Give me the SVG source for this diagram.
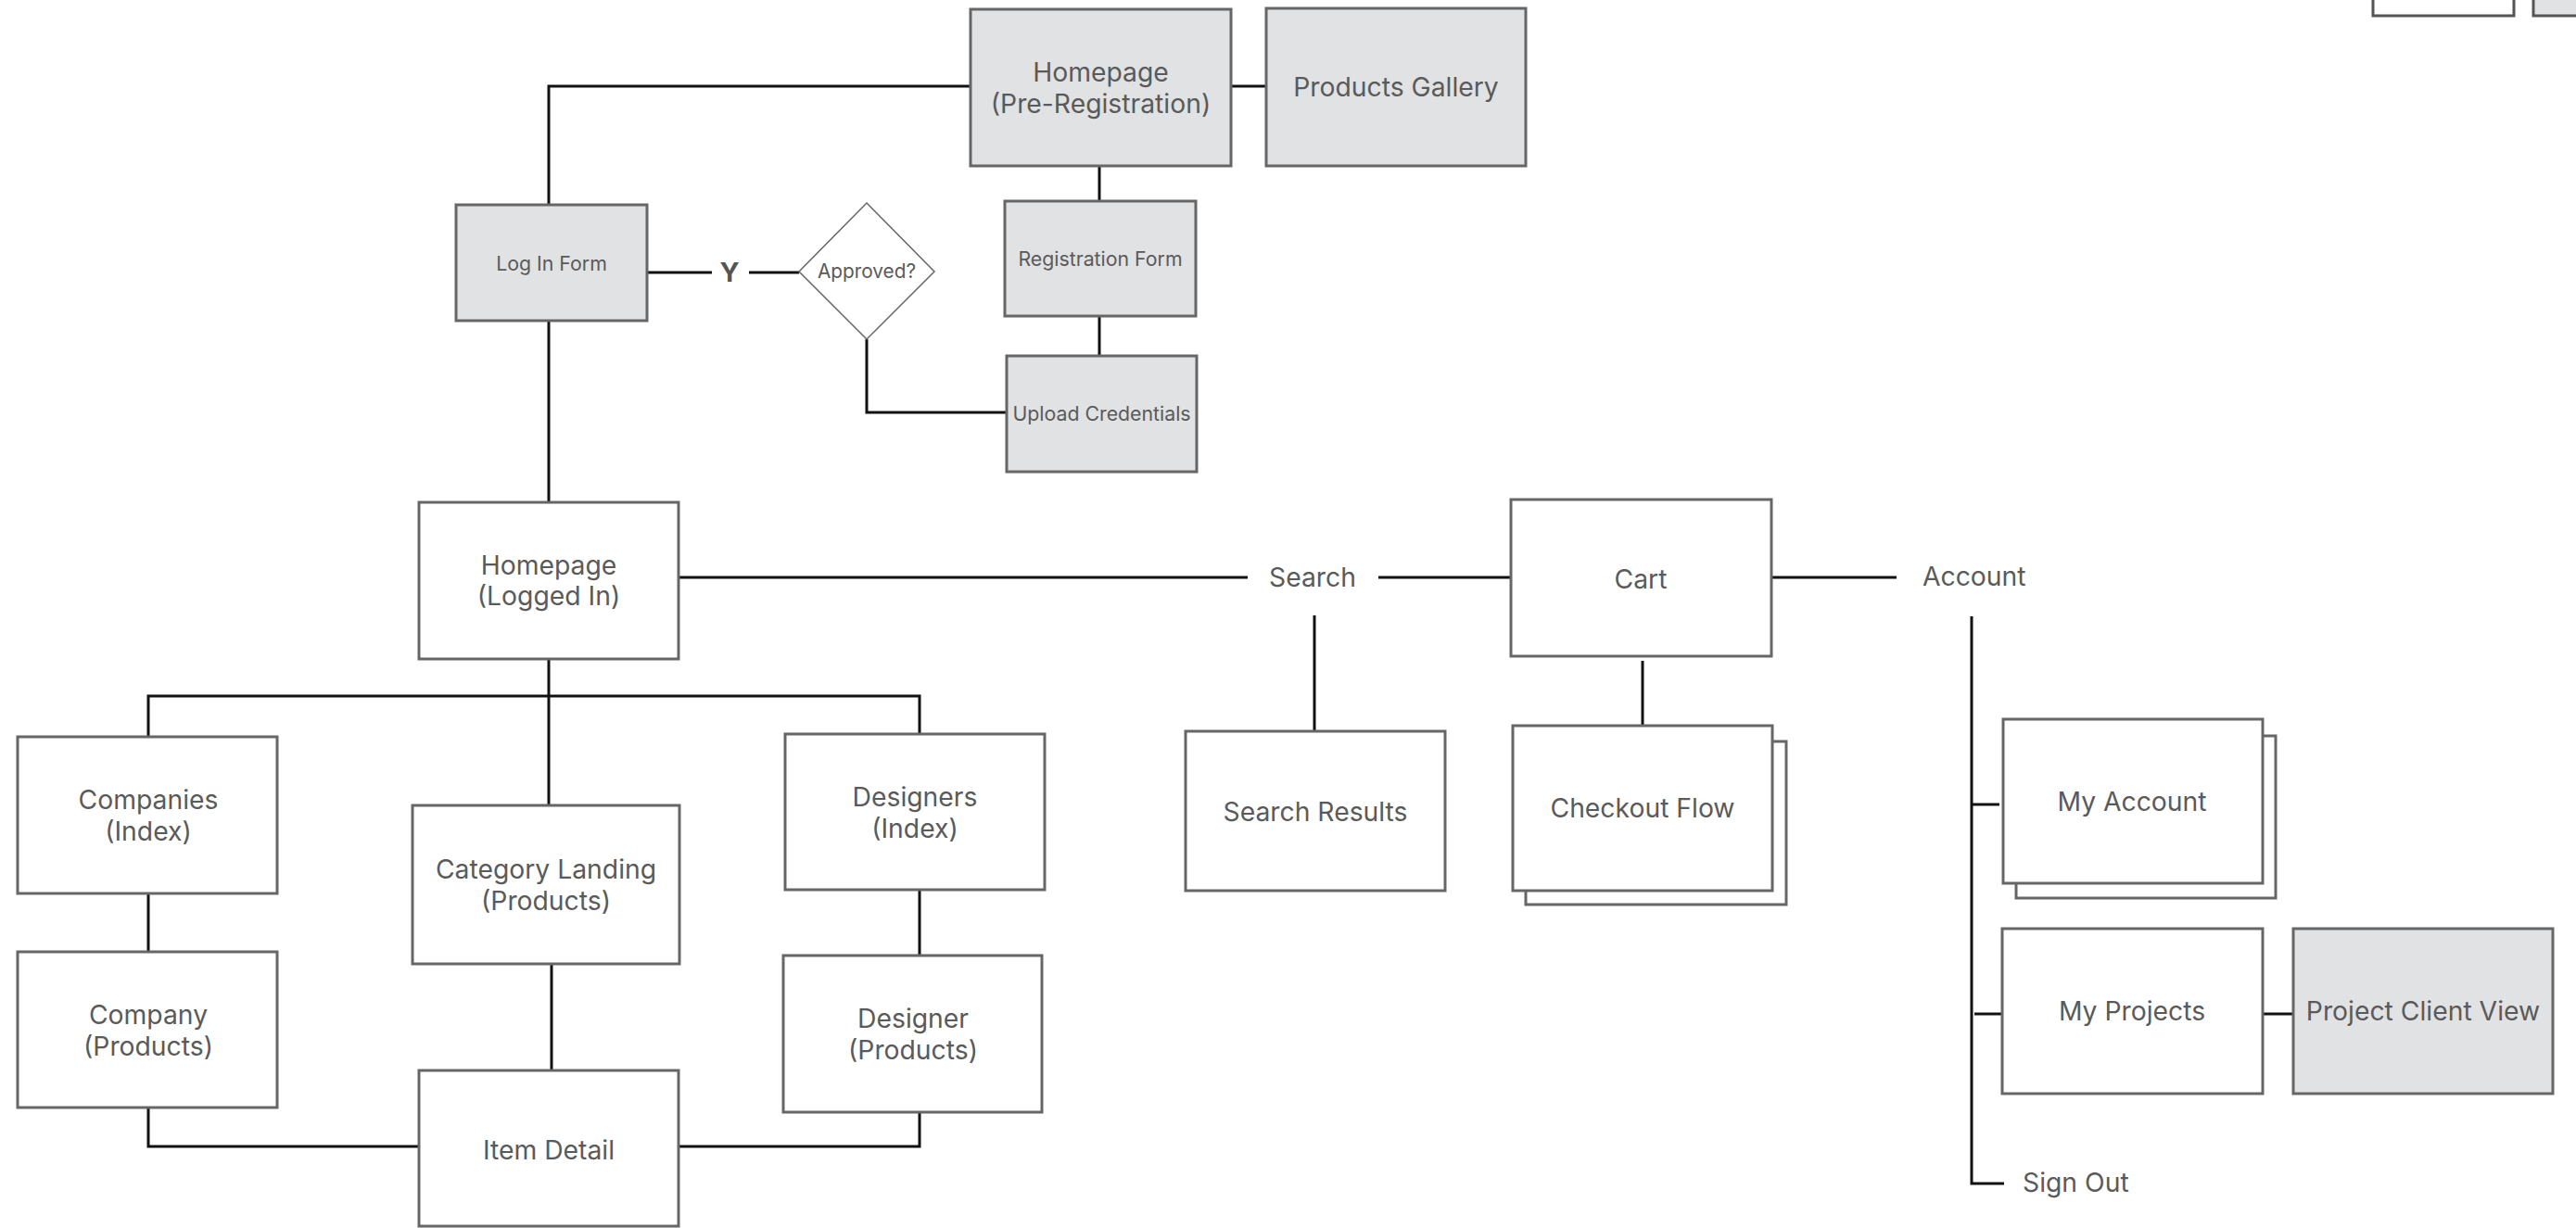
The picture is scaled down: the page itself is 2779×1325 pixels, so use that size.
<svg xmlns="http://www.w3.org/2000/svg" width="2779" height="1325" viewBox="0 0 2779 1325">
  <style>
    .box { fill: #ffffff; stroke: #666666; stroke-width: 3; }
    .page { fill: #e1e2e4; stroke: #666666; stroke-width: 3; }
    .edge { fill: #ffffff; stroke: #555555; stroke-width: 3; }
    .edge-g { fill: #e1e2e4; stroke: #555555; stroke-width: 3; }
    .decision { fill: #ffffff; stroke: #666666; stroke-width: 1.5; }
    .link { fill: none; stroke: #111111; stroke-width: 3; }
    text { font-family: Inter, "Liberation Sans", sans-serif; fill: #5a5a5a; text-anchor: middle; }
    .lg { font-size: 28.3px; }
    .sm { font-size: 21.3px; }
    .xs { font-size: 20.8px; }
    .yes { font-size: 29px; font-weight: bold; fill: #555555; }
    .start { text-anchor: start; }
  </style>

  <!-- connectors -->
  <g id="connectors">
    <path class="link" d="M592 221 V93 H1047"/>
    <path class="link" d="M1328 93 H1366"/>
    <path class="link" d="M1186 179 V217"/>
    <path class="link" d="M1186 341 V384"/>
    <path class="link" d="M698 294 H768"/>
    <path class="link" d="M808 294 H862"/>
    <path class="link" d="M935 366 V445 H1086"/>
    <path class="link" d="M592 346 V542"/>
    <path class="link" d="M732 623 H1346"/>
    <path class="link" d="M1487 623 H1630"/>
    <path class="link" d="M1911 623 H2046"/>
    <path class="link" d="M1418 664 V789"/>
    <path class="link" d="M1772 713 V783"/>
    <path class="link" d="M2127 665 V1277 H2162"/>
    <path class="link" d="M2127 868 H2157"/>
    <path class="link" d="M2130 1094 H2160"/>
    <path class="link" d="M2441 1094 H2474"/>
    <path class="link" d="M592 711 V869"/>
    <path class="link" d="M160 795 V751 H992 V792"/>
    <path class="link" d="M160 964 V1027"/>
    <path class="link" d="M992 960 V1031"/>
    <path class="link" d="M595 1040 V1155"/>
    <path class="link" d="M160 1195 V1237 H452"/>
    <path class="link" d="M992 1200 V1237 H732"/>
    <text class="yes" x="787" y="304">Y</text>
  </g>

  <!-- top area -->
  <g id="homepage-pre-registration">
    <rect class="page" x="1047" y="10" width="281" height="169"/>
    <text class="lg" x="1187.5" y="88">Homepage</text>
    <text class="lg" x="1187.5" y="122">(Pre-Registration)</text>
  </g>
  <g id="products-gallery">
    <rect class="page" x="1366" y="9" width="280" height="170"/>
    <text class="lg" x="1506" y="104">Products Gallery</text>
  </g>
  <g id="log-in-form">
    <rect class="page" x="492" y="221" width="206" height="125"/>
    <text class="sm" x="595" y="292">Log In Form</text>
  </g>
  <g id="approved">
    <polygon class="decision" points="935,219 1008,293 935,366 862,293"/>
    <text class="xs" x="935" y="300">Approved?</text>
  </g>
  <g id="registration-form">
    <rect class="page" x="1084" y="217" width="206" height="124"/>
    <text class="sm" x="1187" y="287">Registration Form</text>
  </g>
  <g id="upload-credentials">
    <rect class="page" x="1086" y="384" width="205" height="125"/>
    <text class="sm" x="1188.5" y="454">Upload Credentials</text>
  </g>

  <!-- logged-in area -->
  <g id="homepage-logged-in">
    <rect class="box" x="452" y="542" width="280" height="169"/>
    <text class="lg" x="592" y="620">Homepage</text>
    <text class="lg" x="592" y="653">(Logged In)</text>
  </g>
  <g id="search">
    <text class="lg" x="1416" y="633">Search</text>
  </g>
  <g id="cart">
    <rect class="box" x="1630" y="539" width="281" height="169"/>
    <text class="lg" x="1770" y="635">Cart</text>
  </g>
  <g id="account">
    <text class="lg start" x="2074" y="632">Account</text>
  </g>

  <g id="companies-index">
    <rect class="box" x="19" y="795" width="280" height="169"/>
    <text class="lg" x="160" y="873">Companies</text>
    <text class="lg" x="160" y="907">(Index)</text>
  </g>
  <g id="category-landing">
    <rect class="box" x="445" y="869" width="288" height="171"/>
    <text class="lg" x="589" y="948">Category Landing</text>
    <text class="lg" x="589" y="982">(Products)</text>
  </g>
  <g id="designers-index">
    <rect class="box" x="847" y="792" width="280" height="168"/>
    <text class="lg" x="987" y="870">Designers</text>
    <text class="lg" x="987" y="904">(Index)</text>
  </g>
  <g id="company-products">
    <rect class="box" x="19" y="1027" width="280" height="168"/>
    <text class="lg" x="160" y="1105">Company</text>
    <text class="lg" x="160" y="1139">(Products)</text>
  </g>
  <g id="designer-products">
    <rect class="box" x="845" y="1031" width="279" height="169"/>
    <text class="lg" x="985" y="1109">Designer</text>
    <text class="lg" x="985" y="1143">(Products)</text>
  </g>
  <g id="item-detail">
    <rect class="box" x="452" y="1155" width="280" height="168"/>
    <text class="lg" x="592" y="1251">Item Detail</text>
  </g>

  <g id="search-results">
    <rect class="box" x="1279" y="789" width="280" height="172"/>
    <text class="lg" x="1419" y="886">Search Results</text>
  </g>
  <g id="checkout-flow">
    <rect class="box" x="1646" y="800" width="281" height="176"/>
    <rect class="box" x="1632" y="783" width="280" height="178"/>
    <text class="lg" x="1772" y="882">Checkout Flow</text>
  </g>

  <g id="my-account">
    <rect class="box" x="2175" y="794" width="280" height="175"/>
    <rect class="box" x="2161" y="776" width="280" height="177"/>
    <text class="lg" x="2300" y="875">My Account</text>
  </g>
  <g id="my-projects">
    <rect class="box" x="2160" y="1002" width="281" height="178"/>
    <text class="lg" x="2300" y="1101">My Projects</text>
  </g>
  <g id="project-client-view">
    <rect class="page" x="2474" y="1002" width="280" height="178"/>
    <text class="lg" x="2614" y="1101">Project Client View</text>
  </g>
  <g id="sign-out">
    <text class="lg start" x="2182" y="1286">Sign Out</text>
  </g>

  <!-- boxes running off the top edge -->
  <g id="offscreen-page-a">
    <rect class="edge" x="2560" y="-60" width="152" height="77"/>
  </g>
  <g id="offscreen-page-b">
    <rect class="edge-g" x="2733" y="-60" width="80" height="77"/>
  </g>
</svg>
